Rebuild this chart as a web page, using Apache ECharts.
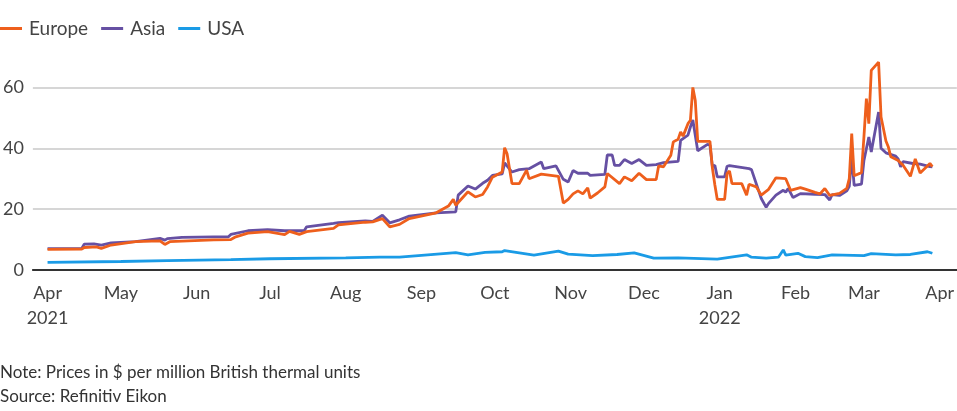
<!DOCTYPE html>
<html>
<head>
<meta charset="utf-8">
<script src="https://cdn.jsdelivr.net/npm/echarts@6/dist/echarts.min.js"></script>
<style>
html,body{margin:0;padding:0;background:#fff;}
#chart{width:957px;height:411px;}
</style>
</head>
<body>
<div id="chart"></div>
<script>
var seriesNames = ['Europe', 'Asia', 'USA'];
var monthTicks = ['2021-04-01','2021-05-01','2021-06-01','2021-07-01','2021-08-01','2021-09-01','2021-10-01','2021-11-01','2021-12-01','2022-01-01','2022-02-01','2022-03-01','2022-04-01'];
var monthLabels = ['Apr\n2021','May','Jun','Jul','Aug','Sep','Oct','Nov','Dec','Jan\n2022','Feb','Mar','Apr'];
var yTicks = [0, 20, 40, 60];
var noteText = 'Note: Prices in $ per million British thermal units';
var sourceText = 'Source: Refinitiv Eikon';

var europe = [
['2021-04-01',6.8],['2021-04-15',6.9],['2021-04-16',7.4],['2021-04-21',7.6],['2021-04-23',7.1],['2021-04-27',8.2],
['2021-05-07',9.3],['2021-05-17',9.6],['2021-05-19',8.4],['2021-05-21',9.3],['2021-05-26',9.5],['2021-06-08',9.9],
['2021-06-15',10.0],['2021-06-17',10.9],['2021-06-22',12.1],['2021-06-30',12.6],['2021-07-07',11.6],['2021-07-09',12.7],
['2021-07-13',11.7],['2021-07-16',12.6],['2021-07-27',13.7],['2021-07-29',14.8],['2021-08-09',15.7],['2021-08-12',15.8],
['2021-08-16',16.9],['2021-08-19',14.2],['2021-08-23',15.0],['2021-08-27',16.9],['2021-09-07',18.8],['2021-09-12',21.0],
['2021-09-14',23.2],['2021-09-15',21.3],['2021-09-20',25.7],['2021-09-23',24.0],['2021-09-26',24.8],['2021-09-28',27.3],
['2021-09-30',30.5],['2021-10-04',32.2],['2021-10-05',40.2],['2021-10-06',38.2],['2021-10-08',28.4],['2021-10-11',28.4],
['2021-10-14',32.8],['2021-10-15',30.0],['2021-10-20',31.5],['2021-10-27',30.8],['2021-10-29',22.0],['2021-10-31',23.2],
['2021-11-02',25.0],['2021-11-04',26.0],['2021-11-06',25.0],['2021-11-08',27.0],['2021-11-09',23.6],['2021-11-12',25.3],
['2021-11-15',27.3],['2021-11-16',31.7],['2021-11-21',28.4],['2021-11-23',30.6],['2021-11-26',29.3],['2021-11-29',31.8],
['2021-12-02',29.7],['2021-12-06',29.7],['2021-12-07',34.2],['2021-12-09',33.9],['2021-12-12',37.7],['2021-12-13',42.1],
['2021-12-15',43.0],['2021-12-16',45.4],['2021-12-17',44.0],['2021-12-19',48.1],['2021-12-20',49.2],['2021-12-21',60.0],
['2021-12-22',55.7],['2021-12-23',42.3],['2021-12-28',42.3],['2021-12-29',33.5],['2021-12-30',28.0],['2021-12-31',23.2],
['2022-01-03',23.2],['2022-01-04',31.7],['2022-01-05',32.5],['2022-01-06',28.4],['2022-01-10',28.4],['2022-01-12',24.6],
['2022-01-13',28.2],['2022-01-16',27.3],['2022-01-18',24.6],['2022-01-21',26.5],['2022-01-24',30.3],['2022-01-28',30.0],
['2022-01-30',26.2],['2022-02-03',27.1],['2022-02-05',26.6],['2022-02-09',25.5],['2022-02-11',25.0],['2022-02-13',26.8],
['2022-02-15',24.5],['2022-02-19',25.2],['2022-02-22',26.8],['2022-02-23',30.0],['2022-02-24',44.8],['2022-02-25',31.0],
['2022-02-28',32.0],['2022-03-01',43.8],['2022-03-02',56.3],['2022-03-03',48.1],['2022-03-04',65.6],['2022-03-07',68.3],
['2022-03-08',50.3],['2022-03-10',42.4],['2022-03-11',40.4],['2022-03-12',37.2],['2022-03-15',36.0],['2022-03-17',34.4],
['2022-03-20',30.8],['2022-03-22',36.5],['2022-03-24',31.9],['2022-03-28',35.0],['2022-03-29',34.0]
];

var asia = [
['2021-04-01',7.0],['2021-04-15',7.1],['2021-04-16',8.5],['2021-04-20',8.6],['2021-04-23',8.2],['2021-04-27',8.9],
['2021-05-07',9.3],['2021-05-17',10.4],['2021-05-19',9.8],['2021-05-20',10.3],['2021-05-26',10.7],['2021-06-08',10.9],
['2021-06-14',10.9],['2021-06-15',11.7],['2021-06-22',12.9],['2021-06-30',13.3],['2021-07-07',12.9],['2021-07-15',12.9],
['2021-07-16',14.2],['2021-07-27',15.3],['2021-07-29',15.6],['2021-08-09',16.1],['2021-08-12',16.0],['2021-08-16',18.0],
['2021-08-19',15.5],['2021-08-23',16.5],['2021-08-27',17.7],['2021-09-07',18.8],['2021-09-15',19.1],['2021-09-16',24.6],
['2021-09-20',27.6],['2021-09-23',26.6],['2021-09-26',28.5],['2021-09-28',29.5],['2021-09-30',31.1],['2021-10-04',31.6],
['2021-10-05',35.2],['2021-10-08',32.2],['2021-10-11',33.0],['2021-10-15',33.3],['2021-10-20',35.5],['2021-10-21',33.3],
['2021-10-26',34.2],['2021-10-29',29.8],['2021-10-31',28.9],['2021-11-02',32.7],['2021-11-04',31.8],['2021-11-08',31.8],
['2021-11-09',31.1],['2021-11-15',31.4],['2021-11-16',37.8],['2021-11-18',37.8],['2021-11-19',34.4],['2021-11-21',34.4],
['2021-11-23',36.3],['2021-11-26',35.0],['2021-11-29',36.3],['2021-12-02',34.4],['2021-12-06',34.6],['2021-12-09',35.3],
['2021-12-15',35.7],['2021-12-16',42.6],['2021-12-17',43.2],['2021-12-19',44.3],['2021-12-20',47.0],['2021-12-21',49.3],
['2021-12-23',39.2],['2021-12-27',41.3],['2021-12-28',41.0],['2021-12-29',34.0],['2021-12-30',34.4],['2021-12-31',30.6],
['2022-01-03',30.6],['2022-01-04',34.1],['2022-01-05',34.3],['2022-01-13',33.3],['2022-01-14',33.0],['2022-01-18',23.5],
['2022-01-20',20.6],['2022-01-21',21.9],['2022-01-24',24.6],['2022-01-27',26.2],['2022-01-28',25.6],['2022-01-29',26.8],
['2022-01-31',23.8],['2022-02-03',25.1],['2022-02-09',24.9],['2022-02-13',24.8],['2022-02-15',23.0],['2022-02-16',24.8],
['2022-02-19',24.5],['2022-02-22',26.0],['2022-02-23',27.5],['2022-02-24',37.2],['2022-02-25',27.8],['2022-02-28',28.2],
['2022-03-01',36.0],['2022-03-03',43.7],['2022-03-04',38.8],['2022-03-07',51.9],['2022-03-08',40.0],['2022-03-10',38.5],
['2022-03-14',37.4],['2022-03-15',36.5],['2022-03-16',33.9],['2022-03-17',35.6],['2022-03-21',35.0],['2022-03-24',34.8],
['2022-03-28',34.0],['2022-03-29',33.9]
];

var usa = [
['2021-04-01',2.5],['2021-05-01',2.8],['2021-05-20',3.1],['2021-06-15',3.4],['2021-07-01',3.7],['2021-08-01',4.0],
['2021-08-15',4.2],['2021-08-23',4.2],['2021-09-01',4.8],['2021-09-15',5.7],['2021-09-20',5.0],['2021-09-27',5.8],
['2021-10-04',6.0],['2021-10-05',6.4],['2021-10-17',4.9],['2021-10-27',6.2],['2021-10-31',5.2],['2021-11-10',4.7],
['2021-11-20',5.1],['2021-11-27',5.6],['2021-12-05',3.9],['2021-12-15',4.0],['2021-12-31',3.6],['2022-01-12',5.0],
['2022-01-14',4.2],['2022-01-20',3.9],['2022-01-25',4.2],['2022-01-27',6.6],['2022-01-28',4.9],['2022-02-02',5.5],
['2022-02-05',4.4],['2022-02-10',4.1],['2022-02-16',5.0],['2022-03-01',4.7],['2022-03-04',5.4],['2022-03-14',5.0],
['2022-03-20',5.1],['2022-03-27',6.0],['2022-03-29',5.5]
];

var colors = ['#EE5F1C', '#6650A3', '#1A9BE6'];
var FONT = 'Lato';

// day offset from 1 April 2021 (x-axis is a value axis in days)
var T0 = Date.UTC(2021, 3, 1);
function day(s) { var p = s.split('-'); return Math.round((Date.UTC(+p[0], +p[1] - 1, +p[2]) - T0) / 86400000); }
function toSeries(arr) { return arr.map(function (d) { return [day(d[0]), d[1]]; }); }

var tickVals = monthTicks.map(day);
var chart = echarts.init(document.getElementById('chart'), null, { renderer: 'canvas' });
var dataSets = [europe, asia, usa];

chart.setOption({
  animation: false,
  color: colors,
  textStyle: { fontFamily: FONT },
  legend: {
    left: 0, top: 19, padding: 0,
    icon: 'rect', itemWidth: 22, itemHeight: 3, itemGap: 13,
    textStyle: { fontSize: 19, color: '#444', fontFamily: FONT, padding: [0, 0, 0, 2] },
    data: seriesNames
  },
  grid: { left: 27, right: 0, top: 57, bottom: 141, containLabel: false },
  xAxis: {
    type: 'value',
    min: day('2021-03-26'), max: day('2022-04-08'),
    axisLine: { show: true, onZero: false, lineStyle: { color: '#333', width: 2 } },
    axisTick: { show: false },
    splitLine: { show: false },
    axisLabel: {
      customValues: tickVals,
      fontSize: 18, color: '#444', fontFamily: FONT, lineHeight: 25, margin: 11,
      hideOverlap: false,
      formatter: function (v) {
        var i = tickVals.indexOf(v);
        return i >= 0 ? monthLabels[i] : '';
      }
    }
  },
  yAxis: {
    type: 'value', min: 0, max: 70, interval: 20,
    axisLine: { show: false }, axisTick: { show: false },
    axisLabel: { fontSize: 18, color: '#444', fontFamily: FONT, margin: 9, showMaxLabel: false,
      formatter: function (v) { return yTicks.indexOf(v) >= 0 ? String(v) : ''; } },
    splitLine: { show: true, showMaxLine: false, lineStyle: { color: '#c8c8c8', width: 1.5 } }
  },
  graphic: [
    { type: 'text', left: 0, top: 364, style: { text: noteText, font: '17px ' + FONT, fill: '#333' } },
    { type: 'text', left: 0, top: 388, style: { text: sourceText, font: '17px ' + FONT, fill: '#333' } }
  ],
  series: seriesNames.map(function (name, i) {
    return {
      name: name, type: 'line', data: toSeries(dataSets[i]),
      showSymbol: false, symbol: 'none',
      lineStyle: { width: 2.8, color: colors[i] },
      itemStyle: { color: colors[i] },
      z: 3 - i
    };
  })
});
</script>
</body>
</html>
